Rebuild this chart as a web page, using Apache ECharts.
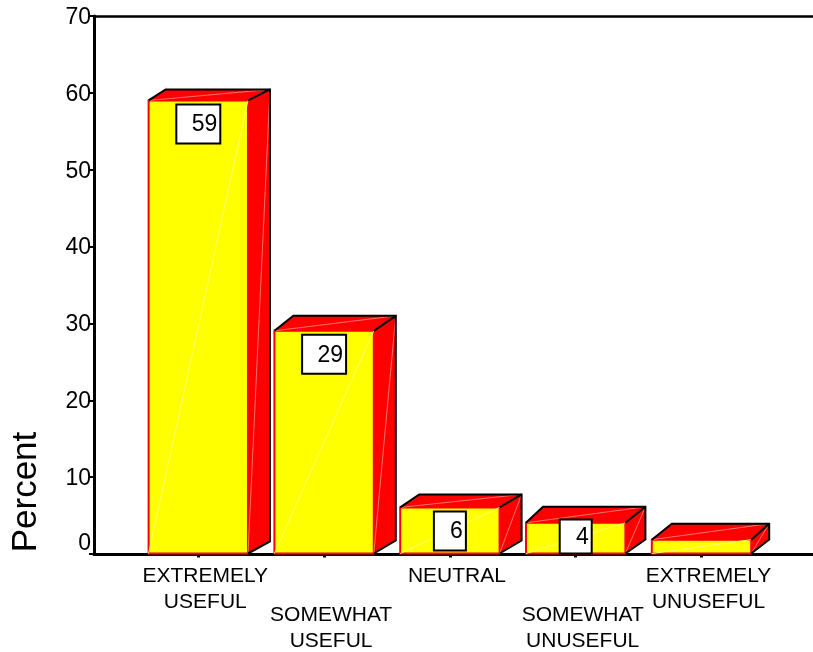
<!DOCTYPE html>
<html>
<head>
<meta charset="utf-8">
<style>html,body{margin:0;padding:0;background:#fff}#chart{width:813px;height:652px}</style>
<script src="https://cdn.jsdelivr.net/npm/echarts@6/dist/echarts.min.js"></script>
</head>
<body>
<div id="chart"></div>
<script>
// Survey responses: usefulness rating, percent of respondents
const categories = [
  'EXTREMELY\nUSEFUL',
  'SOMEWHAT\nUSEFUL',
  'NEUTRAL',
  'SOMEWHAT\nUNUSEFUL',
  'EXTREMELY\nUNUSEFUL'
];
const percents = [59, 29, 6, 4, 1.8];
const valueLabels = ['59', '29', '6', '4', ''];
const yTickStep = 10;
const yMax = 70;

const FONT = '"Liberation Sans", Arial, sans-serif';
const TOP = 16, BOTTOM = 98;   // shared vertical extent of both grids

// Extrusion of each box differs a little, as with a perspective view
const depthLeft = [17, 19, 19, 17, 20];
const depthRight = [22, 22, 22, 20, 18];
const riseTop = [11, 15, 13, 16, 16];
const riseBase = [12, 13, 13, 14, 14];

// Front face with a box extrusion up and to the right
function renderBar(params, api) {
  const i = api.value(0);
  const base = api.coord([i, 0]);
  const top = api.coord([i, api.value(1)]);
  const w = api.size([1, 0])[0] * 0.79;
  const x0 = base[0] - w / 2, x1 = base[0] + w / 2;
  const y0 = top[1], yb = base[1];
  const dxL = depthLeft[i], dxR = depthRight[i], dy = riseTop[i], dyB = riseBase[i];
  const children = [
    { type: 'polygon', shape: { points: [[x1, y0], [x1 + dxR, y0 - dy], [x1 + dxR, yb - dyB], [x1, yb]] },
      style: { fill: '#ff0000' } },
    { type: 'polygon', shape: { points: [[x0, y0], [x0 + dxL, y0 - dy], [x1 + dxR, y0 - dy], [x1, y0]] },
      style: { fill: '#ff0000' } },
    { type: 'rect', shape: { x: x0, y: y0, width: w, height: yb - y0 },
      style: { fill: '#ffff00', stroke: '#ff0000', lineWidth: 2 } },
    // faint facet seams
    { type: 'line', shape: { x1: x0, y1: yb, x2: x1, y2: y0 }, style: { stroke: '#ffff66', lineWidth: 1 } },
    { type: 'line', shape: { x1: x1, y1: yb, x2: x1 + dxR, y2: y0 - dy }, style: { stroke: '#ff7070', lineWidth: 1 } },
    { type: 'line', shape: { x1: x0, y1: y0, x2: x1 + dxR, y2: y0 - dy }, style: { stroke: '#ff7070', lineWidth: 1 } },
    // black back outline
    { type: 'polyline', shape: { points: [[x0, y0], [x0 + dxL, y0 - dy], [x1 + dxR, y0 - dy], [x1 + dxR, yb - dyB], [x1, yb]] },
      style: { fill: 'none', stroke: '#000', lineWidth: 2 } },
    { type: 'line', shape: { x1: x1, y1: y0, x2: x1 + dxR, y2: y0 - dy }, style: { stroke: '#000', lineWidth: 2 } }
  ];
  const label = valueLabels[i];
  if (label) {
    const bw = label.length > 1 ? 44 : 32;
    // keep the value box tall enough to hold its number on short bars
    const by = Math.min(y0 + 4, yb - 34);
    const bh = Math.min(39, yb - by);
    const bx = base[0] - bw / 2;
    children.push(
      { type: 'rect', shape: { x: bx, y: by, width: bw, height: bh },
        style: { fill: '#fff', stroke: '#000', lineWidth: 2 } },
      { type: 'text', style: { x: bx + bw - 3, y: by + bh / 2 + 1, text: label, align: 'right',
        verticalAlign: 'middle', fill: '#000', font: '23px ' + FONT } }
    );
  }
  return { type: 'group', children };
}

const chart = echarts.init(document.getElementById('chart'), null, { renderer: 'canvas' });
chart.setOption({
  animation: false,
  backgroundColor: '#fff',
  graphic: [{
    type: 'text', x: 26, y: 492, rotation: Math.PI / 2,
    style: { text: 'Percent', fill: '#000', font: '35px ' + FONT, align: 'center', verticalAlign: 'middle' }
  }],
  grid: [
    { left: 94, right: 0, top: TOP, bottom: BOTTOM },
    { left: 135.4, right: 48.6, top: TOP, bottom: BOTTOM }
  ],
  xAxis: [
    { // plot frame: baseline and top rule
      gridIndex: 0, type: 'value', min: 0, max: 1, position: 'bottom',
      axisLine: { show: true, lineStyle: { color: '#000', width: 3 } },
      axisTick: { show: false }, axisLabel: { show: false }, splitLine: { show: false }
    },
    {
      gridIndex: 0, type: 'value', min: 0, max: 1, position: 'top',
      axisLine: { show: true, lineStyle: { color: '#000', width: 2.5 } },
      axisTick: { show: false }, axisLabel: { show: false }, splitLine: { show: false }
    },
    {
      gridIndex: 1, type: 'category', data: categories, position: 'bottom',
      axisLine: { show: false },
      axisTick: { show: true, alignWithLabel: true, length: 4, lineStyle: { color: '#000', width: 3 } },
      axisLabel: {
        interval: 0, margin: 10, hideOverlap: false, color: '#000', fontFamily: FONT, fontSize: 21,
        formatter: function (value, index) {
          const lines = value.split('\n').map(function (s) { return '{t|' + s + '}'; }).join('\n');
          return index % 2 ? '{gap| }\n' + lines : lines;
        },
        rich: {
          t: { fontFamily: FONT, fontSize: 21, lineHeight: 26, color: '#000', padding: [0, 0, 0, 14] },
          gap: { fontSize: 10, lineHeight: 39, height: 39 }
        }
      }
    }
  ],
  yAxis: [
    {
      gridIndex: 0, type: 'value', min: 0, max: yMax, interval: yTickStep,
      axisLine: { show: true, lineStyle: { color: '#000', width: 3 } },
      axisTick: { show: true, length: 5, lineStyle: { color: '#000', width: 2 } },
      splitLine: { show: false },
      axisLabel: {
        margin: 3, color: '#000', fontFamily: FONT, fontSize: 23,
        formatter: function (v) { return v === 0 ? '{zero|0}' : '{num|' + v + '}'; },
        rich: {
          num: { fontFamily: FONT, fontSize: 23, color: '#000', padding: [3, 0, 0, 0] },
          zero: { fontFamily: FONT, fontSize: 23, color: '#000', padding: [0, 0, 21, 0] }
        }
      }
    },
    {
      gridIndex: 1, type: 'value', min: 0, max: yMax, interval: yTickStep, show: false
    }
  ],
  series: [{
    type: 'custom',
    xAxisIndex: 2,
    yAxisIndex: 1,
    clip: false,
    renderItem: renderBar,
    encode: { x: 0, y: 1 },
    data: percents.map(function (p, i) { return [i, p]; }),
    z: 1
  }]
});
</script>
</body>
</html>
